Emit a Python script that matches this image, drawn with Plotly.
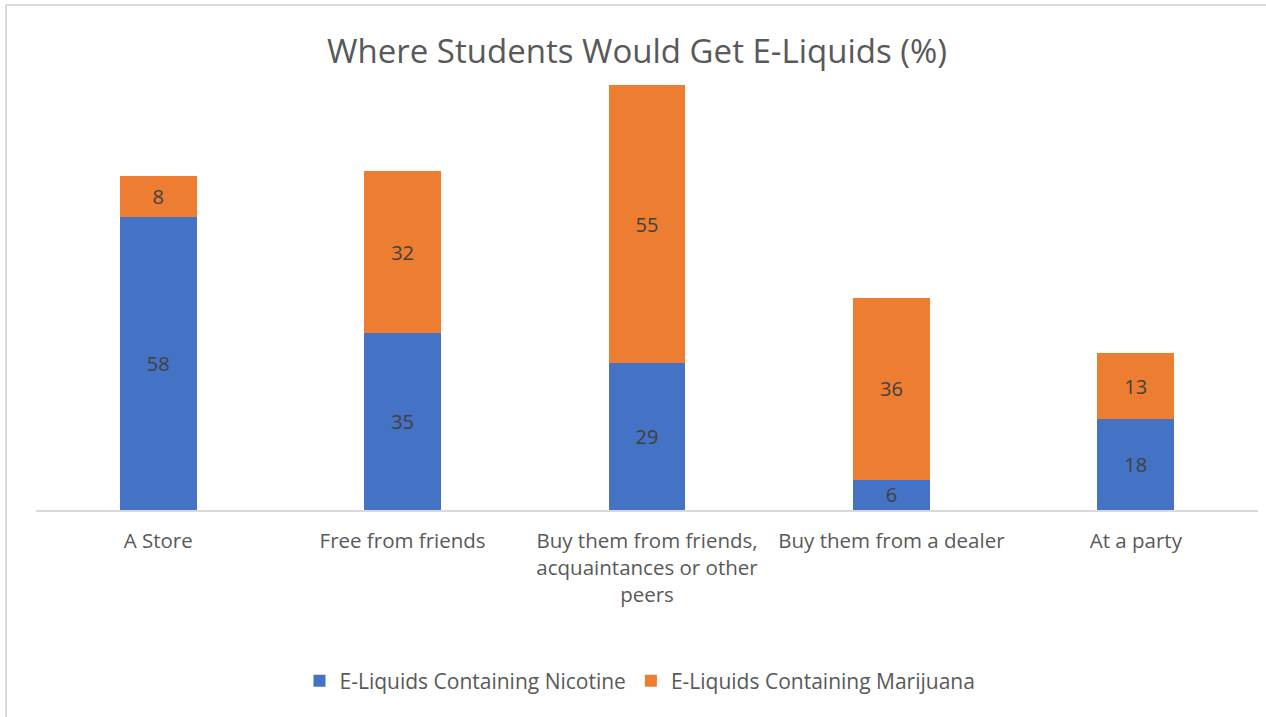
import plotly.graph_objects as go

categories = [
    "A Store",
    "Free from friends",
    "Buy them from friends,<br>acquaintances or other<br>peers",
    "Buy them from a dealer",
    "At a party",
]
nicotine = [58, 35, 29, 6, 18]
marijuana = [8, 32, 55, 36, 13]

W, H = 1266, 717
PL, PR, PT, PB = 36, 8, 55, 207
pw, ph = W - PL - PR, H - PT - PB


def px_x(x):
    return (x - PL) / pw


def px_y(y):
    return (H - PB - y) / ph


FONT = "Open Sans, Liberation Sans, sans-serif"

fig = go.Figure()
for name, vals, color in [
    ("E-Liquids Containing Nicotine", nicotine, "#4472C4"),
    ("E-Liquids Containing Marijuana", marijuana, "#ED7D31"),
]:
    fig.add_trace(go.Bar(
        name=name, x=categories, y=vals,
        marker=dict(color=color, line=dict(width=0)),
        text=vals, textposition="inside", insidetextanchor="middle",
        textangle=0, constraintext="none",
        textfont=dict(color="#404040", size=20, family=FONT),
    ))

fig.update_layout(
    barmode="stack",
    bargap=0.685,
    width=W, height=H,
    margin=dict(l=PL, r=PR, t=PT, b=PB),
    paper_bgcolor="white", plot_bgcolor="white",
    font=dict(family=FONT, color="#595959"),
    title=dict(
        text="Where Students Would Get E-Liquids (%)",
        x=637 / W, xanchor="center", y=1 - 51 / H, yanchor="middle",
        font=dict(size=33, color="#595959", family=FONT),
    ),
    xaxis=dict(
        showline=True, linecolor="#d9d9d9", linewidth=1.5,
        ticks="", ticklabelstandoff=12,
        tickfont=dict(size=20.5, color="#595959", family=FONT),
        showgrid=False, fixedrange=True,
    ),
    yaxis=dict(
        range=[0, 90], visible=False, showgrid=False, zeroline=False,
    ),
    legend=dict(
        orientation="h", x=px_x(640), xanchor="center",
        y=px_y(681), yanchor="middle",
        font=dict(size=21, color="#595959", family=FONT),
        traceorder="normal", itemwidth=30,
    ),
    showlegend=True,
)

# chart frame (top and left edges)
fig.add_shape(type="line", xref="paper", yref="paper",
              x0=px_x(6), x1=px_x(1266), y0=px_y(5), y1=px_y(5),
              line=dict(color="#d9d9d9", width=2))
fig.add_shape(type="line", xref="paper", yref="paper",
              x0=px_x(6), x1=px_x(6), y0=px_y(5), y1=px_y(717),
              line=dict(color="#d9d9d9", width=2))

fig.write_html("out.html")
